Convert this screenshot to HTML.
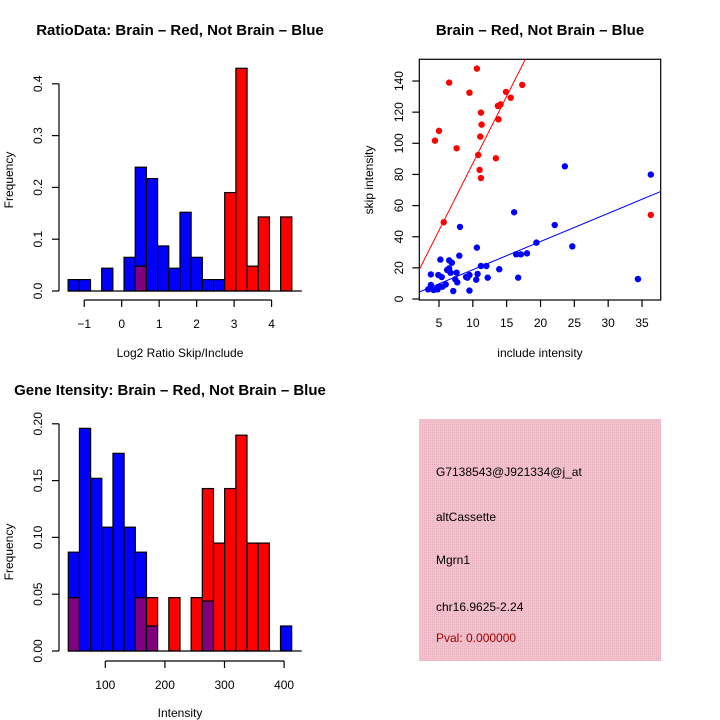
<!DOCTYPE html>
<html><head><meta charset="utf-8"><style>
html,body{margin:0;padding:0;background:#fff;width:720px;height:720px;overflow:hidden}
svg text{font-family:"Liberation Sans",Helvetica,sans-serif;fill:#000}
</style></head><body>
<svg id="s" width="720" height="720" viewBox="0 0 720 720" xmlns="http://www.w3.org/2000/svg">
<defs><pattern id="pk" width="2" height="2" patternUnits="userSpaceOnUse"><rect width="2" height="2" fill="#f2c3cd"/><rect width="1" height="1" fill="#e9b0bf"/></pattern></defs>
<text x="180" y="35" font-size="15" font-weight="bold" text-anchor="middle">RatioData: Brain – Red, Not Brain – Blue</text>
<text x="540" y="35" font-size="15" font-weight="bold" text-anchor="middle">Brain – Red, Not Brain – Blue</text>
<text x="170" y="395" font-size="15" font-weight="bold" text-anchor="middle">Gene Itensity: Brain – Red, Not Brain – Blue</text>
<g id="h1"></g>
<g id="sc"></g>
<g id="h2"></g>
<g>
<rect x="419" y="419" width="242" height="242" fill="url(#pk)"/>
<text x="436" y="476" font-size="12">G7138543@J921334@j_at</text>
<text x="436" y="521" font-size="12">altCassette</text>
<text x="436" y="564" font-size="12">Mgrn1</text>
<text x="436" y="611" font-size="12">chr16.9625-2.24</text>
<text x="436" y="642" font-size="12" style="fill:#a00000">Pval: 0.000000</text>
</g>
</svg>
<script>
// Ratio histogram data
const ratioBlue=[0.022,0.022,0,0.044,0,0.065,0.239,0.217,0.087,0.044,0.152,0.065,0.022,0.022,0,0,0,0,0,0];
const ratioRed=[0,0,0,0,0,0,0.048,0,0,0,0,0,0,0,0.19,0.43,0.048,0.143,0,0.143];
const ratioTicksX=[-1,0,1,2,3,4];
const ratioTicksY=[0,0.1,0.2,0.3,0.4];
// Intensity histogram data
const intBlue=[0.087,0.196,0.152,0.109,0.174,0.109,0.087,0.022,0,0,0,0,0.044,0,0,0,0,0,0,0.022];
const intRed=[0.047,0,0,0,0,0,0.047,0.047,0,0.047,0,0.047,0.143,0.095,0.143,0.19,0.095,0.095,0,0];
const intTicksX=[100,200,300,400];
const intTicksY=[0,0.05,0.10,0.15,0.20];
// Scatter data
const redX=[10.6,6.5,9.5,14.9,15.6,17.3,13.7,14.1,11.2,11.3,13.8,11.1,5.0,4.4,7.6,10.8,13.4,11.0,11.2,5.7,36.3];
const redY=[148,139,132.5,133,129.3,137.5,124,125,119.7,112,115.4,104.3,108,101.7,96.8,92.5,90.4,82.9,77.7,49.3,54];
const blueX=[23.6,36.3,16.1,22.1,8.1,10.6,24.7,19.4,18.0,17.1,16.4,8.0,5.2,6.5,6.9,11.2,12.0,13.9,6.2,6.5,6.7,7.6,3.8,4.9,5.4,10.7,9.5,9.0,9.2,7.4,10.5,12.2,16.7,34.4,7.7,6.0,3.8,5.0,5.5,4.6,3.4,4.2,4.8,7.1,9.5];
const blueY=[85.2,79.9,55.7,47.5,46.3,33,33.8,36.2,29.3,28.7,28.7,27.8,25.3,24.8,23.3,21.2,21.2,19.1,18.6,19.7,16.9,16.9,15.8,15.4,14.1,16.1,15.4,14.1,13.7,12.6,12.4,13.7,13.7,12.8,10.7,9.4,9.0,7.9,7.9,6.4,6.2,5.8,6.2,5.1,5.4];
const redFit=[0.9,8.62];
const blueFit=[0.7,1.81];
const scTicksX=[5,10,15,20,25,30,35];
const scTicksY=[0,20,40,60,80,100,120,140];

const NS="http://www.w3.org/2000/svg";
function mk(p,t,a){const e=document.createElementNS(NS,t);for(const k in a)e.setAttribute(k,a[k]);p.appendChild(e);return e;}
function fmt(v,d){return v<0?"\u2212"+Math.abs(v).toFixed(d):v.toFixed(d);}

function hist(g,o){
  const sx=v=>o.x0+(v-o.v0)*o.kx, sy=v=>o.y0-v*o.ky;
  for(let i=0;i<o.blue.length;i++){
    const a=o.start+i*o.w, b=a+o.w, bl=o.blue[i], rd=o.red[i];
    const lo=Math.min(bl,rd), hi=Math.max(bl,rd);
    if(lo>0){const r=mk(g,'rect',{x:sx(a),y:sy(lo),width:sx(b)-sx(a),height:sy(0)-sy(lo),fill:'#800080',stroke:'#000','stroke-width':1.2});
      
      }
    if(hi>0){const r=mk(g,'rect',{x:sx(a),y:sy(hi),width:sx(b)-sx(a),height:sy(lo)-sy(hi),fill:bl>rd?'#0000ff':'#ff0000',stroke:'#000','stroke-width':1.2});
      
      }
  }
  mk(g,'line',{x1:sx(o.start),x2:sx(o.start+o.w*o.blue.length)+10,y1:sy(0),y2:sy(0),stroke:'#000','stroke-width':1.2});
  const ax=mk(g,'g',{});
  
  
  mk(ax,'line',{x1:sx(o.tx[0]),x2:sx(o.tx[o.tx.length-1]),y1:o.axY,y2:o.axY,stroke:'#000','stroke-width':1.2});
  o.tx.forEach(t=>{mk(ax,'line',{x1:sx(t),x2:sx(t),y1:o.axY,y2:o.axY+7,stroke:'#000','stroke-width':1.2});
    const tt=mk(ax,'text',{x:sx(t),y:o.axY+28,'font-size':12,'text-anchor':'middle'});tt.textContent=fmt(t,0);
    
    });
  const ay=mk(g,'g',{});
  
  
  mk(ay,'line',{x1:59,x2:59,y1:sy(o.ty[0]),y2:sy(o.ty[o.ty.length-1]),stroke:'#000','stroke-width':1.2});
  o.ty.forEach(t=>{mk(ay,'line',{x1:52,x2:59,y1:sy(t),y2:sy(t),stroke:'#000','stroke-width':1.2});
    const tt=mk(ay,'text',{x:0,y:0,'font-size':12,'text-anchor':'middle',transform:`translate(42,${sy(t)}) rotate(-90)`});tt.textContent=t.toFixed(o.dec);
    
    });
  const xl=mk(g,'text',{x:o.xlX,y:o.xlY,'font-size':12,'text-anchor':'middle'});xl.textContent=o.xlab;
  
  
  const yl=mk(g,'text',{x:0,y:0,'font-size':12,'text-anchor':'middle',transform:`translate(13,${o.ylY}) rotate(-90)`});yl.textContent='Frequency';
  
  
}
hist(document.getElementById('h1'),{blue:ratioBlue,red:ratioRed,start:-1.43,w:0.2985,x0:121.7,v0:0,kx:37.47,y0:291,ky:518,tx:ratioTicksX,ty:ratioTicksY,dec:1,axY:300,xlab:'Log2 Ratio Skip/Include',xlX:180,xlY:357,ylY:180});
hist(document.getElementById('h2'),{blue:intBlue,red:intRed,start:37.9,w:18.74,x0:105.3,v0:100,kx:0.596,y0:651,ky:1136,tx:intTicksX,ty:intTicksY,dec:2,axY:661,xlab:'Intensity',xlX:180,xlY:717,ylY:552});

(function(){
  const g=document.getElementById('sc');
  const L=419.3,R=660.7,T=59.3,B=300;
  const sx=v=>439+(v-5)*6.767, sy=v=>299-v*1.557;
  mk(g,'rect',{x:L,y:T,width:R-L,height:B-T,fill:'none',stroke:'#000','stroke-width':1.2});
  const ax=mk(g,'g',{});
  
  
  scTicksX.forEach(t=>{mk(ax,'line',{x1:sx(t),x2:sx(t),y1:B,y2:B+7,stroke:'#000','stroke-width':1.2});
    const tt=mk(ax,'text',{x:sx(t),y:327,'font-size':12,'text-anchor':'middle'});tt.textContent=t;
    
    });
  const ay=mk(g,'g',{});
  
  
  scTicksY.forEach(t=>{mk(ay,'line',{x1:L-7,x2:L,y1:sy(t),y2:sy(t),stroke:'#000','stroke-width':1.2});
    const tt=mk(ay,'text',{x:0,y:0,'font-size':12,'text-anchor':'middle',transform:`translate(403,${sy(t)}) rotate(-90)`});tt.textContent=t;
    
    });
  const xl=mk(g,'text',{x:540,y:357,'font-size':12,'text-anchor':'middle'});xl.textContent='include intensity';
  
  
  const yl=mk(g,'text',{x:0,y:0,'font-size':12,'text-anchor':'middle',transform:'translate(373,180) rotate(-90)'});yl.textContent='skip intensity';
  
  
  mk(g,'clipPath',{id:'cp'}).appendChild(document.createElementNS(NS,'rect'));
  const cr=document.querySelector('#cp rect');cr.setAttribute('x',L);cr.setAttribute('y',T);cr.setAttribute('width',R-L);cr.setAttribute('height',B-T);
  const x1=2.09,x2=37.7;
  const rl=mk(g,'line',{x1:sx(x1),y1:sy(redFit[0]+redFit[1]*x1),x2:sx(x2),y2:sy(redFit[0]+redFit[1]*x2),stroke:'#ff0000','stroke-width':1,'clip-path':'url(#cp)'});
  
  
  const bl=mk(g,'line',{x1:sx(x1),y1:sy(blueFit[0]+blueFit[1]*x1),x2:sx(x2),y2:sy(blueFit[0]+blueFit[1]*x2),stroke:'#0000ff','stroke-width':1,'clip-path':'url(#cp)'});
  
  
  redX.forEach((x,i)=>{const c=mk(g,'circle',{cx:sx(x),cy:sy(redY[i]),r:3.2,fill:'#ff0000'});
    
    });
  blueX.forEach((x,i)=>{const c=mk(g,'circle',{cx:sx(x),cy:sy(blueY[i]),r:3.2,fill:'#0000ff'});
    
    });
})();
</script>
</body></html>
